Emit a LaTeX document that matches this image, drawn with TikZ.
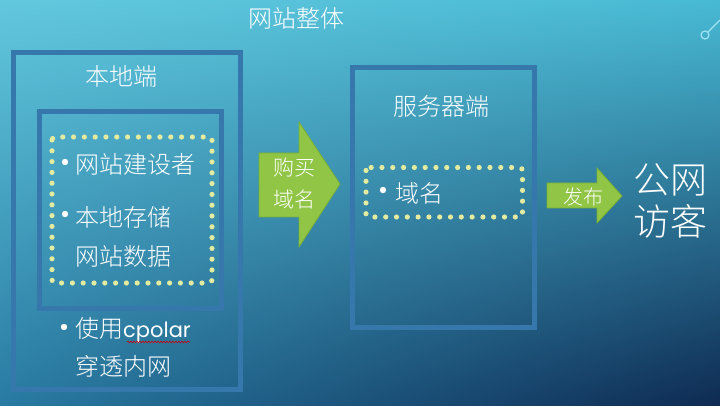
\documentclass[tikz,border=0pt]{standalone}
\usepackage{fontspec}
\setmainfont{Noto Sans CJK SC Light}
\newfontfamily\latinf{Poppins}
\usetikzlibrary{decorations.pathmorphing,shadings}
\definecolor{bgA}{RGB}{98,200,222}
\definecolor{bgB}{RGB}{72,186,212}
\definecolor{bgC}{RGB}{40,122,162}
\definecolor{bgD}{RGB}{14,42,82}
\definecolor{boxblue}{RGB}{55,120,172}
\definecolor{dotyel}{RGB}{226,235,160}
\definecolor{grn}{RGB}{145,197,70}
\definecolor{grnd}{RGB}{120,175,55}
\definecolor{deco}{RGB}{160,228,242}
\tikzset{
  frame/.style={draw=boxblue, line width=5pt},
  dotbox/.style={draw=dotyel, line width=5.2pt, line cap=round, dash pattern=on 0pt off 10.8pt, rounded corners=3pt},
  txt/.style={text=white, font=\fontsize{24}{26}\selectfont, inner sep=0pt},
  btxt/.style={txt, anchor=west},
  arrowshape/.style={fill=grn, draw=grnd, line width=0.8pt},
  atxt/.style={text=white, font=\fontsize{21}{23}\selectfont, inner sep=0pt},
  bul/.style={fill=white, draw=none},
}
\begin{document}
\begin{tikzpicture}[x=1pt,y=-1pt]
\useasboundingbox (0,0) rectangle (720,406);
\shade[upper left=bgA, upper right=bgB, lower left=bgC, lower right=bgD] (0,0) rectangle (720,406);
% decoration top right
\draw[deco, line width=1.2pt] (705,35) circle (4);
\draw[deco, line width=1.2pt] (708,32) -- (720,20);
% title
\node[txt] (title) at (296,18) {网站整体};
% local side
\draw[frame] (13.5,52.5) rectangle (240.5,389.5);
\node[txt] (local) at (121,76) {本地端};
\draw[frame] (39,112) rectangle (221.5,308.5);
\draw[dotbox] (52,137) rectangle (212,283);
\fill[bul] (65,162) circle (3.2);
\node[btxt] (builder) at (75,164) {网站建设者};
\fill[bul] (65,214) circle (3.2);
\node[btxt] (store1) at (75,217) {本地存储};
\node[btxt] (store2) at (75,256) {网站数据};
\fill[bul] (64,327) circle (3.2);
\node[btxt] (cpolar) at (75,330) {使用{\latinf\fontsize{21}{23}\selectfont cpolar}};
\node[btxt] (tunnel) at (75,366) {穿透内网};
\draw[red!80!black, line width=0.6pt, decorate, decoration={snake, amplitude=0.8pt, segment length=3pt}] (127,342) -- (190,342);
% arrow 1
\draw[arrowshape] (259,153) -- (299,153) -- (299,122) -- (340,184) -- (299,247) -- (299,217) -- (259,217) -- cycle;
\node[atxt] (buy1) at (294,168) {购买};
\node[atxt] (buy2) at (294,199) {域名};
% server side
\draw[frame] (352.5,67.5) rectangle (534.5,327.5);
\node[txt] (server) at (441,106) {服务器端};
\draw[dotbox] (366,167.5) rectangle (522.5,217);
\fill[bul] (383,190) circle (3.2);
\node[btxt] (domain) at (395,193) {域名};
% arrow 2
\draw[arrowshape] (547,183) -- (597,183) -- (597,168) -- (622,196) -- (597,223) -- (597,208) -- (547,208) -- cycle;
\node[atxt, font=\fontsize{20}{22}\selectfont] (pub) at (583,197) {发布};
% visitors
\node[txt, font=\fontsize{37}{40}\selectfont] (vis1) at (670,180) {公网};
\node[txt, font=\fontsize{37}{40}\selectfont] (vis2) at (670,221) {访客};
\end{tikzpicture}
\end{document}
